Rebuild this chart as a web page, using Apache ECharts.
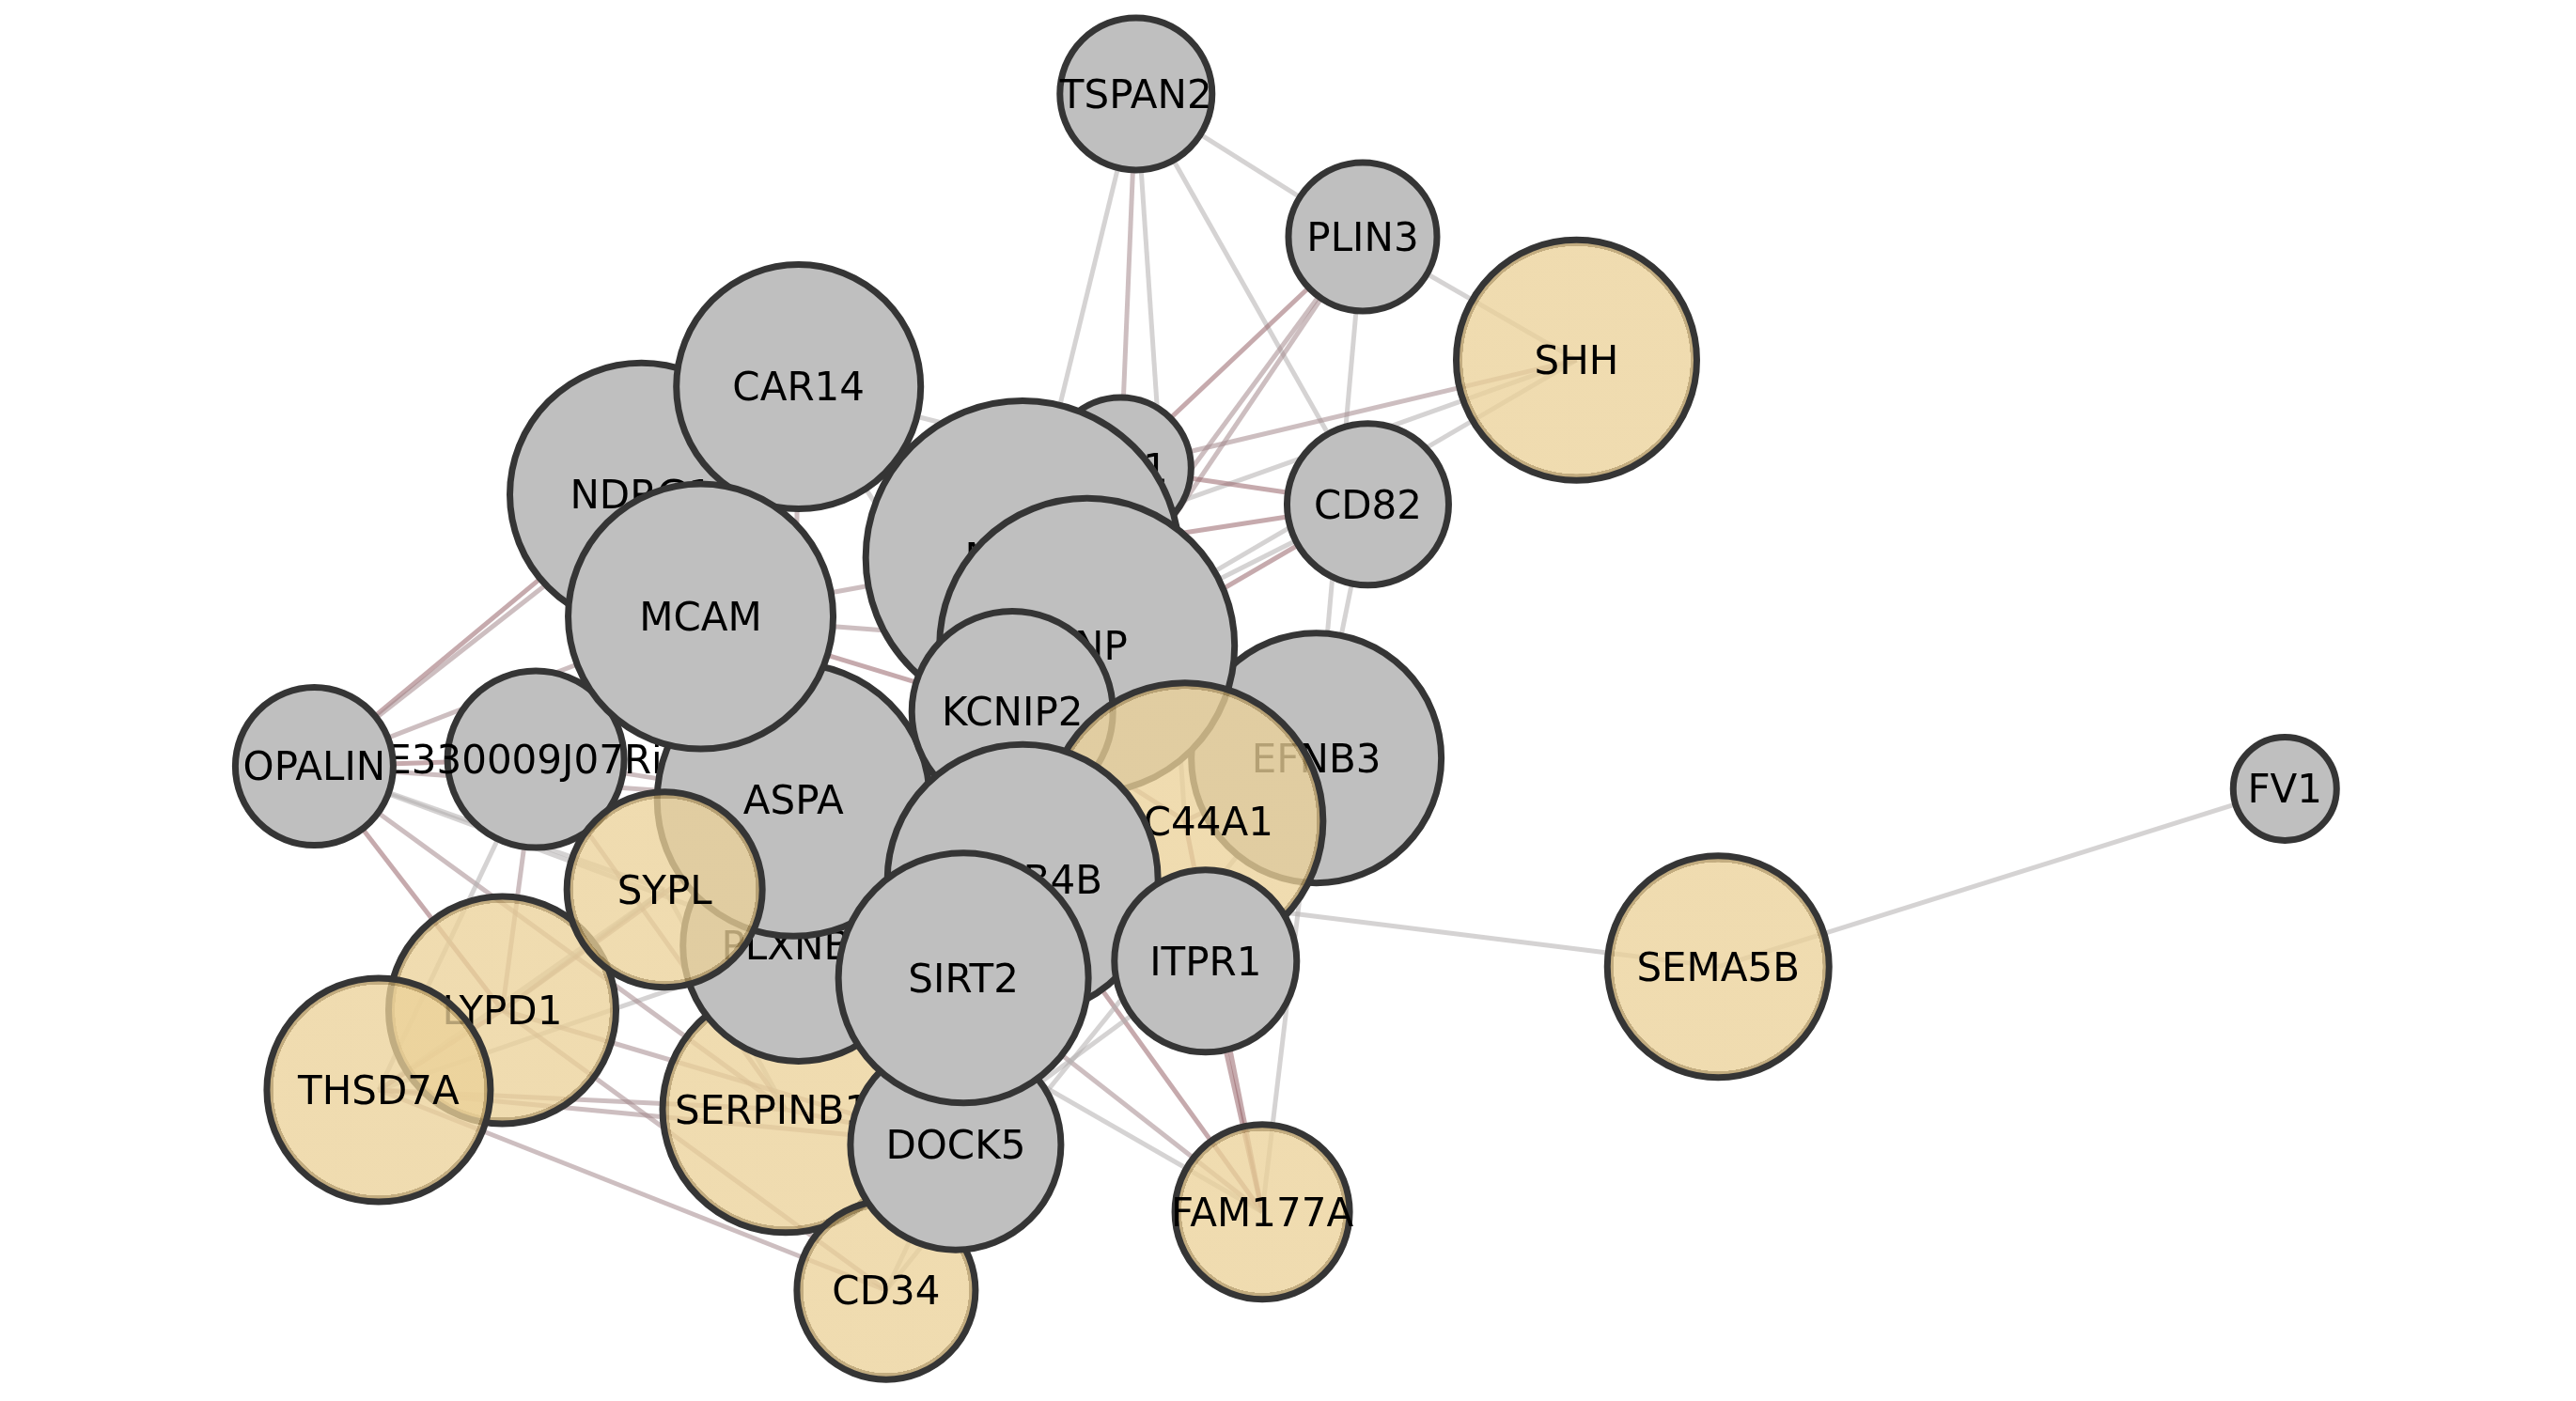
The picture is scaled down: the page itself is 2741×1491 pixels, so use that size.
<!DOCTYPE html>
<html>
<head>
<meta charset="utf-8">
<title>gene network</title>
<script src="https://cdn.jsdelivr.net/npm/echarts@6/dist/echarts.min.js"></script>
<style>
  html, body { margin: 0; padding: 0; background: #fff; }
  #net { width: 2741px; height: 1491px; }
</style>
</head>
<body>
<div id="net"></div>
<script>
// nodes, listed in drawing order (first = bottom)
var geneNames = ['NDRG1', 'CAR14', 'E330009J07Rik', 'OPALIN', 'SERPINB1A', 'CD34', 'PLXNB3', 'ASPA',
    'MCAM', 'LYPD1', 'THSD7A', 'SYPL', 'PLP1', 'MOBP', 'EFNB3', 'CNP', 'KCNIP2', 'SLC44A1',
    'TUBB4B', 'ITPR1', 'DOCK5', 'SIRT2', 'TSPAN2', 'PLIN3', 'SHH', 'CD82', 'FAM177A', 'SEMA5B', 'FV1'];
// layout coordinates
var layoutX = [0.249, 0.310, 0.208, 0.122, 0.305, 0.344, 0.310, 0.308,
    0.272, 0.195, 0.147, 0.258, 0.435, 0.397, 0.511, 0.422, 0.393, 0.460,
    0.397, 0.468, 0.371, 0.374, 0.441, 0.529, 0.612, 0.531, 0.490, 0.667, 0.887];
var layoutY = [0.647, 0.724, 0.458, 0.453, 0.208, 0.079, 0.325, 0.429,
    0.560, 0.279, 0.222, 0.365, 0.666, 0.602, 0.459, 0.539, 0.492, 0.414,
    0.372, 0.314, 0.183, 0.302, 0.933, 0.831, 0.743, 0.640, 0.135, 0.310, 0.437];
// node score (drives node size)
var nodeScore = [14.0, 13.0, 9.4, 8.4, 13.1, 9.5, 12.3, 14.5,
    14.1, 12.1, 11.9, 10.4, 7.5, 16.7, 13.3, 15.7, 10.7, 14.7,
    14.4, 9.7, 11.2, 13.3, 8.1, 7.9, 12.8, 8.6, 9.3, 11.8, 5.5];
// 1 = highlighted gene set
var inSet = [0, 0, 0, 0, 1, 1, 0, 0,
    0, 1, 1, 1, 0, 0, 0, 0, 0, 1,
    0, 0, 0, 0, 0, 0, 1, 0, 1, 1, 0];

// edges
var edgeFrom = ['TSPAN2', 'TSPAN2', 'TSPAN2', 'TSPAN2', 'TSPAN2', 'PLIN3', 'PLIN3', 'PLIN3', 'PLIN3', 'PLIN3',
    'SHH', 'SHH', 'SHH', 'PLP1', 'PLP1', 'MOBP', 'CNP', 'KCNIP2', 'CD82', 'TUBB4B',
    'SEMA5B', 'FAM177A', 'FAM177A', 'FAM177A', 'FAM177A', 'FAM177A', 'FAM177A', 'EFNB3', 'THSD7A', 'THSD7A',
    'THSD7A', 'THSD7A', 'THSD7A', 'LYPD1', 'LYPD1', 'OPALIN', 'OPALIN', 'OPALIN', 'OPALIN', 'OPALIN',
    'OPALIN', 'OPALIN', 'OPALIN', 'OPALIN', 'E330009J07Rik', 'E330009J07Rik', 'E330009J07Rik', 'E330009J07Rik', 'E330009J07Rik', 'LYPD1',
    'LYPD1', 'SYPL', 'NDRG1', 'NDRG1', 'CAR14', 'CAR14', 'CAR14', 'MCAM', 'MCAM', 'MCAM',
    'MCAM', 'ASPA', 'SIRT2', 'SERPINB1A', 'CD34', 'ITPR1', 'ITPR1', 'ITPR1', 'SLC44A1', 'SLC44A1',
    'CNP', 'MOBP', 'SYPL', 'ASPA', 'PLXNB3'];
var edgeTo = ['PLIN3', 'MOBP', 'PLP1', 'SLC44A1', 'CD82', 'SHH', 'EFNB3', 'MOBP', 'CNP', 'KCNIP2',
    'MOBP', 'PLP1', 'CNP', 'CD82', 'CAR14', 'CD82', 'CD82', 'CD82', 'EFNB3', 'SEMA5B',
    'FV1', 'ITPR1', 'SLC44A1', 'EFNB3', 'TUBB4B', 'SIRT2', 'PLXNB3', 'CD34', 'CD34', 'SERPINB1A',
    'DOCK5', 'PLXNB3', 'LYPD1', 'DOCK5', 'CD34', 'SERPINB1A', 'NDRG1', 'CAR14', 'MCAM', 'E330009J07Rik',
    'SYPL', 'PLXNB3', 'LYPD1', 'ASPA', 'LYPD1', 'THSD7A', 'SERPINB1A', 'MCAM', 'ASPA', 'SYPL',
    'ASPA', 'THSD7A', 'MCAM', 'CAR14', 'MOBP', 'KCNIP2', 'ASPA', 'MOBP', 'KCNIP2', 'CNP',
    'SIRT2', 'KCNIP2', 'DOCK5', 'DOCK5', 'DOCK5', 'TUBB4B', 'SIRT2', 'DOCK5', 'EFNB3', 'KCNIP2',
    'KCNIP2', 'PLP1', 'SERPINB1A', 'TUBB4B', 'SIRT2'];
var edgeStrength = [1, 1, 2, 1, 1, 1, 1, 3, 2, 2,
    1, 2, 1, 3, 1, 3, 1, 3, 1, 1,
    1, 3, 3, 1, 3, 2, 1, 1, 2, 2,
    2, 1, 3, 2, 2, 2, 3, 2, 2, 3,
    1, 1, 3, 2, 2, 1, 2, 2, 2, 1,
    2, 1, 2, 1, 1, 1, 2, 2, 3, 2,
    1, 2, 2, 2, 1, 2, 2, 1, 2, 2,
    2, 2, 1, 2, 2];

var edgeColors = ['rgba(179,175,175,0.55)', 'rgba(164,137,140,0.55)', 'rgba(151,100,106,0.55)'];
var grayFill = '#bfbfbf';
var tanFill = 'rgba(235,209,152,0.77)';
var tanRing = 'rgba(180,152,96,0.8)';

var chart = echarts.init(document.getElementById('net'));

var nodeData = geneNames.map(function (n, i) {
    return { name: n, value: [layoutX[i], layoutY[i]] };
});
var links = edgeFrom.map(function (s, i) {
    return { source: s, target: edgeTo[i], lineStyle: { color: edgeColors[edgeStrength[i] - 1] } };
});

var series = [{
    type: 'graph',
    coordinateSystem: 'cartesian2d',
    z: 1,
    silent: true,
    animation: false,
    symbolSize: 0,
    label: { show: false },
    data: nodeData,
    links: links,
    lineStyle: { width: 5, opacity: 1, curveness: 0 }
}];

var nodeSeriesIdx = [];
geneNames.forEach(function (name, i) {
    var fill = grayFill;
    if (inSet[i]) {
        var edge = 1 - 1 / nodeScore[i];
        fill = {
            type: 'radial', x: 0.5, y: 0.5, r: 0.5,
            colorStops: [
                { offset: 0, color: tanFill },
                { offset: edge, color: tanFill },
                { offset: edge + 0.001, color: tanRing },
                { offset: 1, color: tanRing }
            ]
        };
    }
    nodeSeriesIdx.push(series.length);
    series.push({
        type: 'scatter',
        name: name,
        z: 10 + i,
        silent: true,
        animation: false,
        symbol: 'circle',
        data: [[layoutX[i], layoutY[i], nodeScore[i]]],
        itemStyle: { color: fill, borderColor: '#353535', borderWidth: 7, opacity: 1 },
        label: {
            show: true,
            position: 'inside',
            offset: [0, 4],
            formatter: name,
            fontFamily: 'DejaVu Sans',
            fontSize: 42,
            color: '#000',
            textBorderWidth: 0
        },
        emphasis: { disabled: true }
    });
});

chart.setOption({
    backgroundColor: '#fff',
    animation: false,
    grid: { left: 0, right: 0, top: 0, bottom: 0 },
    xAxis: { type: 'value', min: 0, max: 1, show: false },
    yAxis: { type: 'value', min: 0, max: 1, show: false },
    visualMap: {
        show: false,
        type: 'continuous',
        seriesIndex: nodeSeriesIdx,
        dimension: 2,
        min: 0,
        max: 20,
        inRange: { symbolSize: [0, 400] }
    },
    series: series
});
</script>
</body>
</html>
